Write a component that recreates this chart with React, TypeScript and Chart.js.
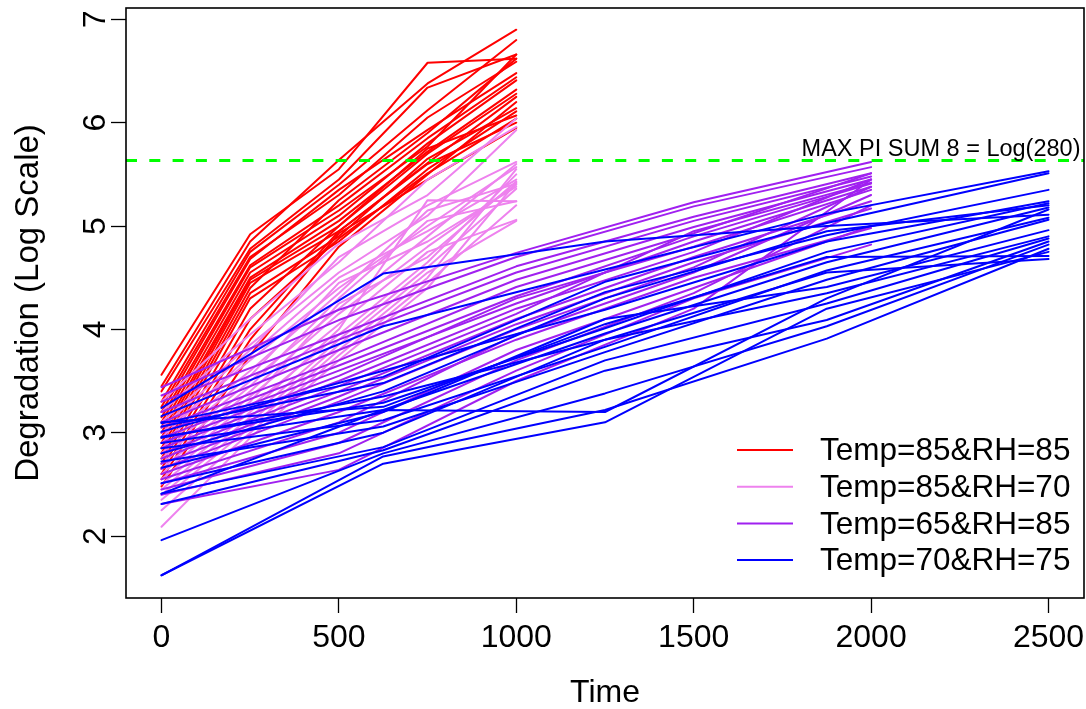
import React, { useEffect, useRef } from 'react';
import { Chart, registerables } from 'chart.js';

Chart.register(...registerables);

const FONT = '"Liberation Sans", Arial, Helvetica, sans-serif';

// Measurement times for each stress group
const redTimes = [0, 250, 500, 750, 1000];
const pinkTimes = [0, 250, 500, 750, 1000];
const purpleTimes = [0, 500, 1000, 1500, 2000];
const blueTimes = [0, 625, 1250, 1875, 2500];

// Temp=85&RH=85
const red85rh85: number[][] = [
  [3.56, 4.92, 5.55, 6.58, 6.62],
  [3.45, 4.85, 5.64, 6.38, 6.90],
  [3.40, 4.78, 5.45, 6.34, 6.66],
  [3.30, 4.75, 5.40, 6.12, 6.80],
  [3.25, 4.70, 5.30, 6.05, 6.59],
  [3.20, 4.68, 5.35, 5.93, 6.48],
  [3.15, 4.62, 5.20, 5.85, 6.44],
  [3.10, 4.60, 5.15, 5.77, 6.66],
  [3.05, 4.55, 5.10, 5.80, 6.41],
  [3.00, 4.50, 5.05, 5.72, 6.32],
  [2.95, 4.48, 5.00, 5.70, 6.28],
  [2.90, 4.45, 4.95, 5.61, 6.25],
  [2.85, 4.40, 5.25, 5.90, 6.62],
  [2.80, 4.35, 4.90, 5.65, 6.14],
  [2.75, 4.30, 4.85, 5.55, 6.11],
  [2.70, 4.20, 5.00, 5.75, 6.07],
  [2.65, 4.10, 4.88, 5.51, 6.04],
  [2.60, 4.00, 4.95, 5.60, 6.00],
  [2.55, 3.90, 4.93, 5.45, 5.95],
  [2.48, 3.75, 4.80, 5.50, 6.20],
];

// Temp=85&RH=70
const pink85rh70: number[][] = [
  [3.30, 4.10, 4.83, 5.30, 6.04],
  [3.20, 3.95, 4.65, 5.45, 5.96],
  [3.10, 3.85, 4.55, 5.10, 5.93],
  [3.05, 3.80, 4.70, 5.20, 5.62],
  [3.00, 3.70, 4.40, 5.00, 5.57],
  [2.95, 3.75, 4.50, 4.95, 5.45],
  [2.90, 3.60, 4.35, 5.15, 5.41],
  [2.85, 3.55, 4.45, 4.85, 5.38],
  [2.80, 3.50, 4.20, 4.90, 5.60],
  [2.75, 3.45, 4.30, 5.05, 5.24],
  [2.70, 3.40, 4.15, 4.80, 5.40],
  [2.65, 3.35, 4.05, 4.75, 5.06],
  [2.60, 3.30, 4.25, 4.70, 5.43],
  [2.55, 3.25, 3.95, 4.65, 5.50],
  [2.50, 3.20, 4.00, 5.25, 5.24],
  [2.45, 3.15, 3.90, 4.60, 5.36],
  [2.40, 3.10, 3.85, 4.55, 5.05],
  [2.35, 3.05, 3.80, 4.50, 5.55],
  [2.25, 3.00, 3.75, 4.45, 5.20],
  [2.09, 2.95, 3.70, 4.40, 5.42],
];

// Temp=65&RH=85
const purple65rh85: number[][] = [
  [3.44, 4.19, 4.74, 5.23, 5.62],
  [3.36, 4.09, 4.70, 5.19, 5.57],
  [3.30, 3.95, 4.61, 5.09, 5.51],
  [3.20, 3.90, 4.55, 5.05, 5.48],
  [3.10, 3.80, 4.48, 4.99, 5.45],
  [3.05, 3.70, 4.41, 4.93, 5.51],
  [3.00, 3.65, 4.32, 4.90, 5.41],
  [2.95, 3.60, 4.25, 4.85, 5.38],
  [2.90, 3.55, 4.30, 4.80, 5.35],
  [2.85, 3.50, 4.20, 4.75, 5.45],
  [2.80, 3.45, 4.15, 4.95, 5.42],
  [2.75, 3.40, 4.10, 4.70, 5.24],
  [2.70, 3.35, 4.05, 4.65, 5.17],
  [2.65, 3.30, 4.00, 4.60, 5.38],
  [2.60, 3.20, 3.90, 4.50, 4.98],
  [2.55, 3.10, 3.95, 4.55, 5.30],
  [2.51, 3.00, 3.80, 4.40, 5.00],
  [2.45, 2.90, 3.70, 4.35, 5.20],
  [2.40, 2.80, 3.60, 4.30, 4.82],
  [2.31, 2.64, 3.50, 4.20, 5.45],
];

// Temp=70&RH=75
const blue70rh75: number[][] = [
  [3.24, 4.54, 4.85, 5.00, 5.11],
  [3.16, 4.03, 4.58, 5.12, 5.53],
  [3.09, 3.54, 4.46, 5.03, 5.51],
  [3.06, 3.48, 4.36, 4.91, 5.35],
  [3.01, 3.60, 4.19, 4.85, 5.24],
  [2.96, 3.29, 4.01, 4.75, 5.22],
  [2.90, 3.22, 3.96, 4.65, 5.18],
  [2.85, 3.12, 3.83, 4.57, 5.08],
  [2.72, 3.06, 3.78, 4.48, 5.06],
  [2.66, 3.20, 4.10, 4.41, 4.96],
  [2.51, 3.00, 3.90, 4.35, 4.90],
  [2.41, 2.86, 3.70, 4.25, 4.88],
  [2.31, 2.83, 3.60, 4.09, 4.85],
  [1.96, 2.80, 3.38, 4.03, 4.82],
  [1.62, 2.77, 3.22, 3.91, 4.78],
  [1.62, 2.70, 3.10, 4.20, 4.75],
  [3.10, 3.25, 4.05, 4.70, 4.71],
  [2.95, 3.35, 3.90, 4.55, 4.68],
  [2.41, 3.22, 3.20, 4.30, 5.16],
  [2.80, 3.40, 4.30, 4.95, 5.20],
];

const legendLabels = ['Temp=85&RH=85', 'Temp=85&RH=70', 'Temp=65&RH=85', 'Temp=70&RH=75'];
const groupColors = ['#FF0000', '#EE82EE', '#A020F0', '#0000FF'];
const xTicks = [0, 500, 1000, 1500, 2000, 2500];
const yTicks = [2, 3, 4, 5, 6, 7];
const maxPiLevel = Math.log(280);
const maxPiLabel = 'MAX PI SUM 8 = Log(280)';

export default function App() {
  const ref = useRef<HTMLCanvasElement>(null);

  useEffect(() => {
    const groups = [
      { times: redTimes, series: red85rh85, color: groupColors[0], order: 4 },
      { times: pinkTimes, series: pink85rh70, color: groupColors[1], order: 3 },
      { times: purpleTimes, series: purple65rh85, color: groupColors[2], order: 2 },
      { times: blueTimes, series: blue70rh75, color: groupColors[3], order: 1 },
    ];
    const datasets: any[] = [];
    groups.forEach((g) => {
      g.series.forEach((s) => {
        datasets.push({
          data: s.map((y, i) => ({ x: g.times[i], y })),
          borderColor: g.color,
          backgroundColor: g.color,
          borderWidth: 2,
          pointRadius: 0,
          tension: 0,
          fill: false,
          borderCapStyle: 'round',
          borderJoinStyle: 'round',
          order: g.order,
        });
      });
    });
    datasets.push({
      data: [
        { x: -100, y: maxPiLevel },
        { x: 2600, y: maxPiLevel },
      ],
      borderColor: '#00FF00',
      borderWidth: 3,
      borderDash: [11, 12.3],
      pointRadius: 0,
      fill: false,
      order: 0,
    });

    const overlay = {
      id: 'overlay',
      afterDraw(chart: any) {
        const { ctx, chartArea } = chart;
        const xs = chart.scales.x;
        const ys = chart.scales.y;
        ctx.save();
        // box
        ctx.strokeStyle = '#000';
        ctx.lineWidth = 1.6;
        ctx.strokeRect(chartArea.left, chartArea.top, chartArea.right - chartArea.left, chartArea.bottom - chartArea.top);
        // annotation
        ctx.fillStyle = '#000';
        ctx.font = `23.5px ${FONT}`;
        ctx.textAlign = 'right';
        ctx.textBaseline = 'alphabetic';
        ctx.fillText(maxPiLabel, xs.getPixelForValue(2590), ys.getPixelForValue(maxPiLevel) - 4);
        // legend
        ctx.font = `31.5px ${FONT}`;
        ctx.textAlign = 'left';
        ctx.textBaseline = 'middle';
        legendLabels.forEach((lab, i) => {
          const y = 450 + i * 36.7;
          ctx.strokeStyle = groupColors[i];
          ctx.lineWidth = 2;
          ctx.beginPath();
          ctx.moveTo(737, y);
          ctx.lineTo(793, y);
          ctx.stroke();
          ctx.fillStyle = '#000';
          ctx.fillText(lab, 820, y + 1.5);
        });
        ctx.restore();
      },
    };

    const chart = new Chart(ref.current as HTMLCanvasElement, {
      type: 'line',
      data: { datasets },
      options: {
        animation: false,
        responsive: false,
        devicePixelRatio: 1,
        events: [],
        layout: { padding: { top: 8, right: 2, left: 0, bottom: 0 } },
        plugins: { legend: { display: false }, tooltip: { enabled: false } },
        scales: {
          x: {
            type: 'linear',
            min: -100,
            max: 2600,
            afterBuildTicks: (s: any) => {
              s.ticks = xTicks.map((v) => ({ value: v }));
            },
            afterFit: (s: any) => {
              s.height = 111;
              s.paddingLeft = 0;
              s.paddingRight = 0;
            },
            border: { display: false },
            grid: { drawOnChartArea: false, drawTicks: true, tickLength: 15, tickColor: '#000', tickWidth: 1.3 },
            ticks: {
              autoSkip: false,
              maxRotation: 0,
              minRotation: 0,
              padding: 6,
              color: '#000',
              font: { family: FONT, size: 32 },
              callback: (v: any) => String(v),
            },
            title: {
              display: true,
              text: 'Time',
              color: '#000',
              font: { family: FONT, size: 32, lineHeight: 1 },
              padding: 0,
            },
          },
          y: {
            type: 'linear',
            min: 1.4,
            max: 7.11,
            afterBuildTicks: (s: any) => {
              s.ticks = yTicks.map((v) => ({ value: v }));
            },
            afterFit: (s: any) => {
              s.width = 126;
              s.paddingTop = 0;
              s.paddingBottom = 0;
            },
            border: { display: false },
            grid: { drawOnChartArea: false, drawTicks: true, tickLength: 15, tickColor: '#000', tickWidth: 1.3 },
            ticks: {
              autoSkip: false,
              minRotation: 90,
              maxRotation: 90,
              crossAlign: 'center',
              padding: 6,
              color: '#000',
              font: { family: FONT, size: 32 },
              callback: (v: any) => String(v),
            },
            title: {
              display: true,
              text: 'Degradation (Log Scale)',
              color: '#000',
              font: { family: FONT, size: 33, lineHeight: 1 },
              padding: { top: 12, bottom: 0 },
            },
          },
        },
      } as any,
      plugins: [overlay],
    });
    return () => chart.destroy();
  }, []);

  return (
    <div style={{ position: 'absolute', left: 0, top: 0, width: 1086, height: 709, background: '#fff' }}>
      <canvas ref={ref} width={1086} height={709} />
    </div>
  );
}
